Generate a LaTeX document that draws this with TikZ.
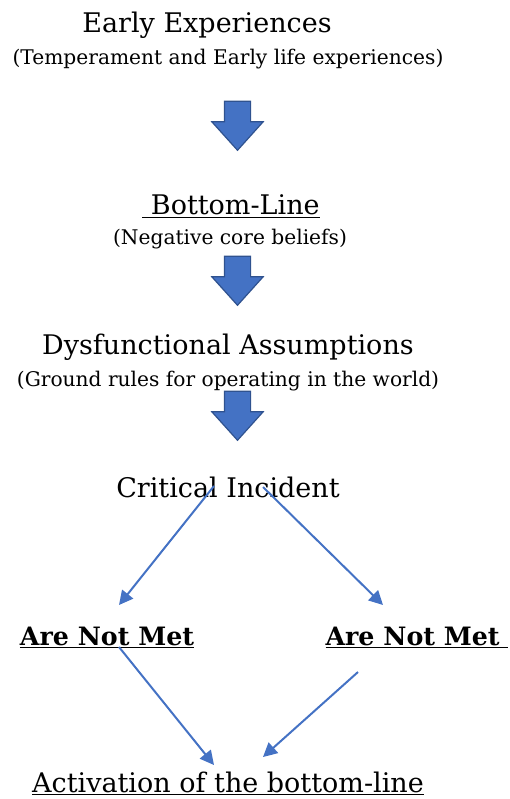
\documentclass[tikz,border=0pt]{standalone}
\usepackage{fontspec}
\setmainfont{DejaVu Serif}
\usetikzlibrary{arrows.meta,positioning,shapes.arrows,calc}
\definecolor{flowblue}{HTML}{4472C4}
\definecolor{flowedge}{HTML}{2F528F}
\tikzset{
  head/.style    = {anchor=base, inner sep=0pt, font=\fontsize{27}{31}\selectfont},
  sub/.style     = {anchor=base, inner sep=0pt, font=\fontsize{20.2}{24}\selectfont},
  metbox/.style  = {anchor=base, inner sep=0pt, font=\fontsize{25.3}{29}\selectfont\bfseries},
  bigarrow/.style= {single arrow, shape border rotate=270, draw=flowedge, fill=flowblue,
                    line width=1.2pt, minimum height=49pt, inner xsep=12.5pt, inner ysep=0pt,
                    single arrow head extend=12.5pt, single arrow tip angle=84},
  fl/.style      = {-{Triangle[length=14pt,width=14pt]}, line width=2pt, draw=flowblue},
}
\begin{document}
\begin{tikzpicture}[x=1pt,y=1pt]
\useasboundingbox (0,0) rectangle (510,-799);
% top of the chain
\node[head] (early) at (207,-33) {Early Experiences};
\node[sub] (earlysub) at (228,-65) {(Temperament and Early life experiences)};
\node[bigarrow] (a1) at (237.5,-118.5) {};
\node[head] (bl) at (231,-215) {\underline{\ Bottom-Line}};
\node[sub] (blsub) at (230,-245) {(Negative core beliefs)};
\node[bigarrow] (a2) at (237.5,-273.5) {};
\node[head] (da) at (228,-354) {Dysfunctional Assumptions};
\node[sub] (dasub) at (228,-386) {(Ground rules for operating in the world)};
\node[bigarrow] (a3) at (237.5,-408.5) {};
\node[head] (ci) at (228,-497) {Critical Incident};
% split
\node[metbox] (anl) at (107,-645) {\underline{Are Not Met}};
\node[metbox] (anr) at (417,-645) {\underline{Are Not Met\ }};
\node[head] (act) at (228,-792) {\underline{Activation of the bottom-line}};
% edge ends
\coordinate (cil) at ($(ci.base)+(-14,11)$);
\coordinate (cir) at ($(ci.base)+(35,10)$);
\coordinate (anlt) at ($(anl.base)+(12,40)$);
\coordinate (anrt) at ($(anr.base)+(-34,40)$);
\coordinate (anlb) at ($(anl.base)+(12,-2)$);
\coordinate (anrb) at ($(anr.base)+(-59,-27)$);
\coordinate (actl) at ($(act.base)+(-14,27)$);
\coordinate (actr) at ($(act.base)+(35,35)$);
% edges
\draw[fl] (cil) -- (anlt);
\draw[fl] (cir) -- (anrt);
\draw[fl] (anlb) -- (actl);
\draw[fl] (anrb) -- (actr);
\end{tikzpicture}
\end{document}
